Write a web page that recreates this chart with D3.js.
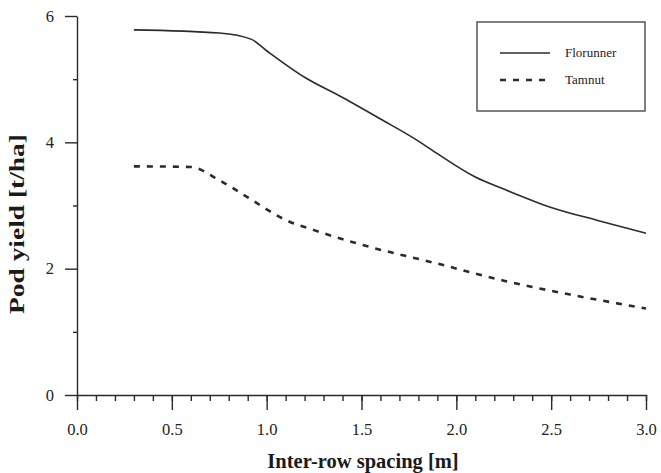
<!DOCTYPE html>
<html>
<head>
<meta charset="utf-8">
<script src="https://cdn.jsdelivr.net/npm/d3@7"></script>
<style>
	body { margin: 0; background: #fff; }
	svg { display: block; }
	.axis path, .axis line { stroke: #2a2a2a; stroke-width: 1.4; }
	.axis text { fill: #222; }
</style>
</head>
<body>
<svg id="chart" width="661" height="473"></svg>
<script>
// values
let seriesNames = ["Florunner", "Tamnut"];
let florunnerX = [0.3, 0.75, 0.92, 1.0, 1.2, 1.4, 1.6, 1.8, 1.9, 2.1, 2.25, 2.5, 2.75, 3.0];
let florunnerY = [5.78, 5.73, 5.63, 5.45, 5.03, 4.71, 4.37, 4.02, 3.82, 3.45, 3.26, 2.97, 2.76, 2.56];
let tamnutX = [0.3, 0.6, 0.75, 0.9, 1.0, 1.1, 1.25, 1.5, 1.9, 2.25, 2.6, 3.0];
let tamnutY = [3.62, 3.61, 3.40, 3.13, 2.94, 2.77, 2.61, 2.38, 2.08, 1.81, 1.59, 1.37];
let xTicks = [0, 0.5, 1.0, 1.5, 2.0, 2.5, 3.0];
let yTicks = [0, 2, 4, 6];

const serif = "'Liberation Serif', 'Times New Roman', serif";

let svg = d3.select("#chart");
let margin = {top: 16, right: 15, bottom: 78, left: 77};
let width = +svg.attr("width") - margin.left - margin.right;
let height = +svg.attr("height") - margin.top - margin.bottom;
let g = svg.append("g").attr("transform", "translate(" + margin.left + "," + margin.top + ")");

let x = d3.scaleLinear().domain([0, 3]).range([0, width]);
let y = d3.scaleLinear().domain([0, 6]).range([height, 0]);

// minor ticks first, then the labelled axes on top
g.append("g")
	.attr("class", "axis")
	.attr("transform", "translate(0," + height + ")")
	.call(d3.axisBottom(x).tickValues(d3.range(0, 31).map(i => i / 10)).tickSize(6).tickFormat(""))
	.call(a => a.select(".domain").remove());

g.append("g")
	.attr("class", "axis")
	.call(d3.axisLeft(y).tickValues([1, 3, 5]).tickSize(4).tickFormat(""))
	.call(a => a.select(".domain").remove());

g.append("g")
	.attr("class", "axis")
	.attr("transform", "translate(0," + height + ")")
	.call(d3.axisBottom(x).tickValues(xTicks).tickSize(15).tickSizeOuter(0).tickPadding(13).tickFormat(d3.format(".1f")))
	.call(a => a.selectAll("text").style("font-family", serif).style("font-size", "16.5px"));

g.append("g")
	.attr("class", "axis")
	.call(d3.axisLeft(y).tickValues(yTicks).tickSize(12).tickSizeOuter(0).tickPadding(11).tickFormat(d3.format("d")))
	.call(a => a.selectAll("text").style("font-family", serif).style("font-size", "16.5px"));

// axis titles
svg.append("text")
	.attr("x", 363)
	.attr("y", 468)
	.attr("text-anchor", "middle")
	.style("font-family", serif)
	.style("font-weight", "bold")
	.style("font-size", "20.5px")
	.attr("fill", "#1a1a1a")
	.text("Inter-row spacing [m]");

svg.append("text")
	.attr("transform", "translate(24,224) rotate(-90)")
	.attr("text-anchor", "middle")
	.style("font-family", serif)
	.style("font-weight", "bold")
	.style("font-size", "21px")
	.attr("textLength", 180)
	.attr("lengthAdjust", "spacingAndGlyphs")
	.attr("fill", "#1a1a1a")
	.text("Pod yield [t/ha]");

// lines
let line = d3.line().x(d => x(d[0])).y(d => y(d[1])).curve(d3.curveMonotoneX);
let series = [
	{name: seriesNames[0], pts: d3.zip(florunnerX, florunnerY), dash: null, w: 1.6},
	{name: seriesNames[1], pts: d3.zip(tamnutX, tamnutY), dash: "6,7", w: 2.6}
];

g.selectAll(".series")
	.data(series)
	.enter().append("path")
	.attr("class", "series")
	.attr("fill", "none")
	.attr("stroke", "#2b2b2b")
	.attr("stroke-width", d => d.w)
	.attr("stroke-linejoin", "round")
	.attr("stroke-dasharray", d => d.dash)
	.attr("d", d => line(d.pts));

// legend
let legend = svg.append("g").attr("transform", "translate(477,22)");
legend.append("rect")
	.attr("width", 168)
	.attr("height", 89)
	.attr("fill", "none")
	.attr("stroke", "#555")
	.attr("stroke-width", 1.5);

let item = legend.selectAll(".item")
	.data(series)
	.enter().append("g")
	.attr("class", "item")
	.attr("transform", (d, i) => "translate(0," + (31 + i * 27) + ")");

item.append("line")
	.attr("x1", 23)
	.attr("x2", 73)
	.attr("stroke", "#2b2b2b")
	.attr("stroke-width", d => d.w - 0.3)
	.attr("stroke-dasharray", d => d.dash);

item.append("text")
	.attr("x", 88)
	.attr("dy", "0.32em")
	.style("font-family", serif)
	.style("font-size", "13px")
	.attr("fill", "#222")
	.text(d => d.name);
</script>
</body>
</html>
